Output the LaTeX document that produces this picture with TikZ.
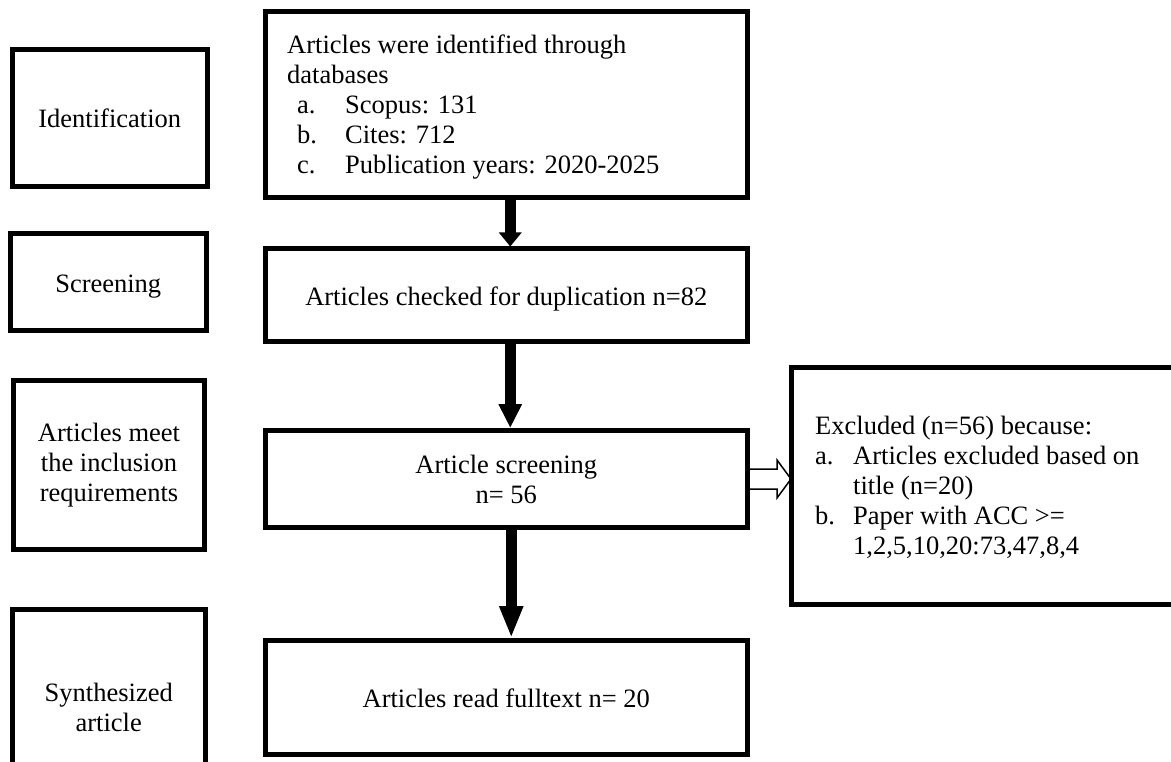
\documentclass[tikz,border=0pt]{standalone}
\usepackage{fontspec}
\setmainfont{Liberation Serif}
\usetikzlibrary{arrows.meta,calc}
\newcommand\dgfont{\fontsize{26.5}{30}\selectfont}
\begin{document}
\begin{tikzpicture}[x=1pt,y=-1pt,
  box/.style={draw, line width=5pt, rectangle, inner sep=0pt, align=center, font=\dgfont},
  oneline/.style={text height=20pt, text depth=0pt},
  txt/.style={inner sep=0pt, font=\dgfont, anchor=base west},
  bigarr/.style={line width=11pt, -{Triangle[length=#1, width=22pt]}},
  hollow/.style={line width=1.5pt, line join=miter}]
\path[use as bounding box, clip] (0,0) rectangle (1171,762);
% left column
\node[box, oneline, minimum width=195.5pt, minimum height=137pt] (L1) at (109.75,118) {Identification};
\node[box, oneline, minimum width=196.5pt, minimum height=97.5pt] (L2) at (108.25,282.25) {Screening};
\node[box, minimum width=191pt, minimum height=169.5pt] (L3) at (109,464.75) {Articles meet\\the inclusion\\requirements};
\node[box, minimum width=193.5pt, minimum height=195pt] (L4) at (108.75,707) {Synthesized\\article};
% main column
\node[box, minimum width=482.5pt, minimum height=185.5pt] (M1) at (506.25,104.75) {};
\node[txt] (M1t) at (287,54) {\begin{tabular}[t]{@{}l@{}}Articles were identified through\\
databases\\
\hspace*{10pt}\makebox[48pt][l]{a.}Scopus: 131\\
\hspace*{10pt}\makebox[48pt][l]{b.}Cites: 712\\
\hspace*{10pt}\makebox[48pt][l]{c.}Publication years: 2020-2025\end{tabular}};
\node[box, oneline, minimum width=482.5pt, minimum height=92.5pt] (M2) at (506.25,295.25) {Articles checked for duplication n=82};
\node[box, minimum width=482.5pt, minimum height=97pt] (M3) at (506.25,479) {Article screening\\n= 56};
\node[box, oneline, minimum width=482.5pt, minimum height=113.5pt] (M4) at (506.25,697.25) {Articles read fulltext n= 20};
% excluded box
\node[box, minimum width=408.5pt, minimum height=237pt] (R) at (995.75,486) {};
\node[txt] (Rt) at (815,434) {\begin{tabular}[t]{@{}l@{}}Excluded (n=56) because:\\
\makebox[38pt][l]{a.}Articles excluded based on\\
\hspace*{38pt}title (n=20)\\
\makebox[38pt][l]{b.}Paper with ACC >=\\
\hspace*{38pt}1,2,5,10,20:73,47,8,4\end{tabular}};
% arrows
\draw[bigarr=14pt] ([xshift=4pt]M1.south) -- ([xshift=4pt]M2.north);
\draw[bigarr=24pt] ([xshift=4pt]M2.south) -- ([xshift=4pt]M3.north);
\draw[bigarr=32pt] ([xshift=5pt]M3.south) -- ([xshift=5pt]M4.north);
\draw[hollow] ($(M3.east)+(0,-10)$) -- ++(27,0) -- ++(0,-9) -- ($(R.west |- M3.east)+(2,0)$) -- ($(M3.east)+(27,19)$) -- ++(0,-9) -- ++(-27,0);
\end{tikzpicture}
\end{document}
